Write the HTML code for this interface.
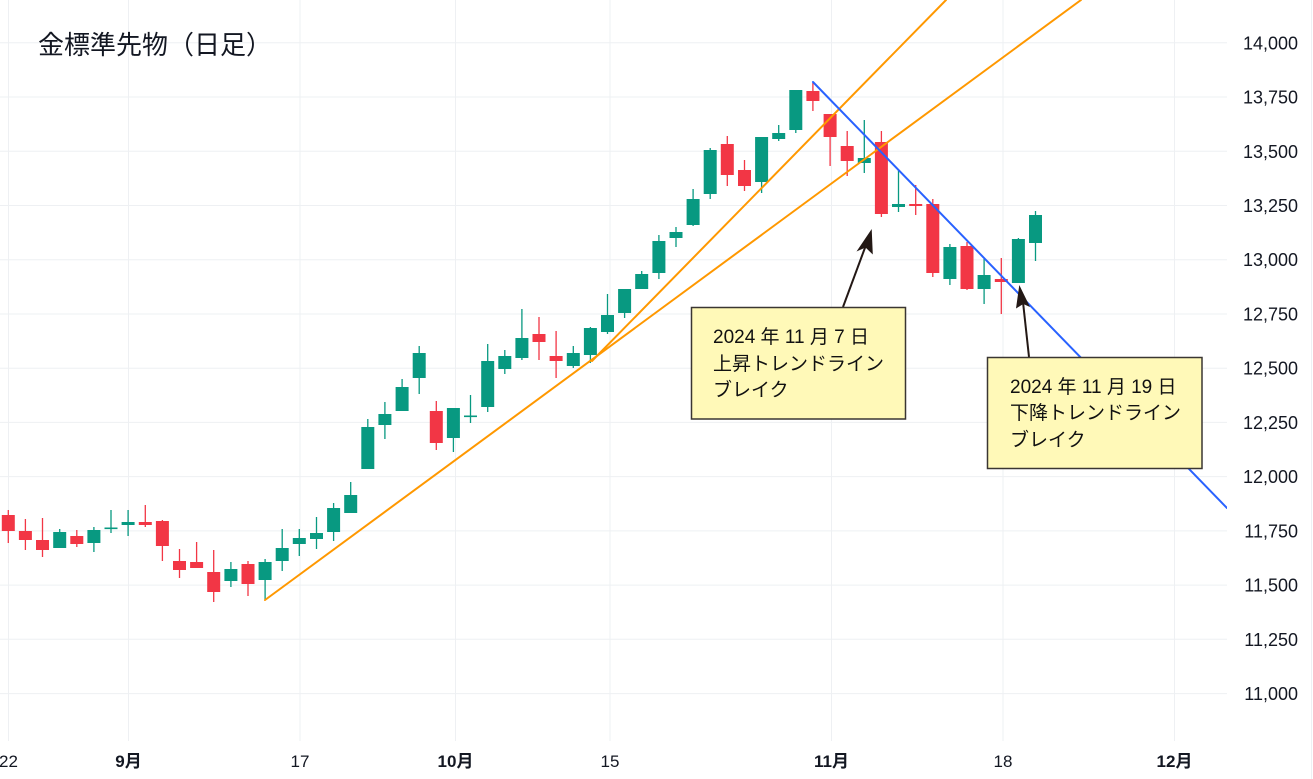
<!DOCTYPE html>
<html>
<head>
<meta charset="utf-8">
<style>
  html,body{margin:0;padding:0;background:#ffffff;}
  body{width:1313px;height:779px;overflow:hidden;}
  svg{display:block;}
  .ylab{font-family:"Liberation Sans","Noto Sans CJK JP",sans-serif;font-size:18px;fill:#131722;}
  .xlab{font-family:"Liberation Sans","Noto Sans CJK JP",sans-serif;font-size:17px;fill:#131722;}
  .xmon{font-weight:bold;}
  .title{font-family:"Liberation Sans","Noto Sans CJK JP",sans-serif;font-size:26px;fill:#131722;}
  .ann{font-family:"Liberation Sans","Noto Sans CJK JP",sans-serif;font-size:19px;fill:#111111;}
</style>
</head>
<body>
<svg width="1313" height="779" viewBox="0 0 1313 779" xmlns="http://www.w3.org/2000/svg">
  <defs>
    <clipPath id="plot"><rect x="0" y="0" width="1227" height="742"/></clipPath>
  </defs>
  <rect x="0" y="0" width="1313" height="779" fill="#ffffff"/>

  <!-- horizontal grid -->
  <g stroke="#eef0f3" stroke-width="1">
    <line x1="0" y1="42.8" x2="1227" y2="42.8"/>
    <line x1="0" y1="97.0" x2="1227" y2="97.0"/>
    <line x1="0" y1="151.3" x2="1227" y2="151.3"/>
    <line x1="0" y1="205.5" x2="1227" y2="205.5"/>
    <line x1="0" y1="259.7" x2="1227" y2="259.7"/>
    <line x1="0" y1="314.0" x2="1227" y2="314.0"/>
    <line x1="0" y1="368.2" x2="1227" y2="368.2"/>
    <line x1="0" y1="422.4" x2="1227" y2="422.4"/>
    <line x1="0" y1="476.6" x2="1227" y2="476.6"/>
    <line x1="0" y1="530.9" x2="1227" y2="530.9"/>
    <line x1="0" y1="585.1" x2="1227" y2="585.1"/>
    <line x1="0" y1="639.3" x2="1227" y2="639.3"/>
    <line x1="0" y1="693.6" x2="1227" y2="693.6"/>
  </g>
  <!-- vertical grid -->
  <g stroke="#eef0f3" stroke-width="1">
    <line x1="8.5" y1="0" x2="8.5" y2="741"/>
    <line x1="128.5" y1="0" x2="128.5" y2="741"/>
    <line x1="300" y1="0" x2="300" y2="741"/>
    <line x1="455.5" y1="0" x2="455.5" y2="741"/>
    <line x1="610" y1="0" x2="610" y2="741"/>
    <line x1="831.5" y1="0" x2="831.5" y2="741"/>
    <line x1="1003" y1="0" x2="1003" y2="741"/>
    <line x1="1174.5" y1="0" x2="1174.5" y2="741"/>
  </g>
  <line x1="1311.5" y1="0" x2="1311.5" y2="779" stroke="#eef0f3" stroke-width="1"/>

  <!-- title -->
  <text class="title" x="38" y="54">金標準先物（日足）</text>

  <!-- red candles -->
  <g fill="#f23645" stroke="#f23645">
    <g stroke-width="1.3">
      <line x1="8.3" y1="510" x2="8.3" y2="543"/>
      <line x1="25.4" y1="519" x2="25.4" y2="550"/>
      <line x1="42.5" y1="518" x2="42.5" y2="557"/>
      <line x1="76.8" y1="530" x2="76.8" y2="547"/>
      <line x1="145.3" y1="505" x2="145.3" y2="527"/>
      <line x1="162.4" y1="520" x2="162.4" y2="561"/>
      <line x1="179.5" y1="549" x2="179.5" y2="578"/>
      <line x1="196.6" y1="542" x2="196.6" y2="568"/>
      <line x1="213.7" y1="550" x2="213.7" y2="602"/>
      <line x1="248.0" y1="561" x2="248.0" y2="596"/>
      <line x1="436.3" y1="401" x2="436.3" y2="450"/>
      <line x1="539.0" y1="317" x2="539.0" y2="360"/>
      <line x1="556.1" y1="331" x2="556.1" y2="378"/>
      <line x1="727.3" y1="136" x2="727.3" y2="186"/>
      <line x1="744.5" y1="160" x2="744.5" y2="191"/>
      <line x1="812.9" y1="83" x2="812.9" y2="111"/>
      <line x1="830.1" y1="114" x2="830.1" y2="166"/>
      <line x1="847.2" y1="131" x2="847.2" y2="176"/>
      <line x1="881.4" y1="131" x2="881.4" y2="217"/>
      <line x1="915.7" y1="185" x2="915.7" y2="215"/>
      <line x1="932.8" y1="199" x2="932.8" y2="277"/>
      <line x1="967.0" y1="242" x2="967.0" y2="290"/>
      <line x1="1001.3" y1="258" x2="1001.3" y2="314"/>
    </g>
    <g stroke="none">
      <rect x="1.8" y="515" width="13" height="16"/>
      <rect x="18.9" y="531" width="13" height="9"/>
      <rect x="36" y="540" width="13" height="10"/>
      <rect x="70.3" y="536" width="13" height="8"/>
      <rect x="138.8" y="522" width="13" height="3"/>
      <rect x="155.9" y="521" width="13" height="25"/>
      <rect x="173" y="561" width="13" height="9"/>
      <rect x="190.1" y="562" width="13" height="6"/>
      <rect x="207.2" y="572" width="13" height="20"/>
      <rect x="241.5" y="564" width="13" height="20"/>
      <rect x="429.8" y="411" width="13" height="32"/>
      <rect x="532.5" y="334" width="13" height="8"/>
      <rect x="549.6" y="356" width="13" height="5"/>
      <rect x="720.8" y="144" width="13" height="31"/>
      <rect x="738" y="170" width="13" height="16"/>
      <rect x="806.4" y="91" width="13" height="10"/>
      <rect x="823.6" y="114" width="13" height="23"/>
      <rect x="840.7" y="146" width="13" height="15"/>
      <rect x="874.9" y="142" width="13" height="72"/>
      <rect x="909.2" y="204" width="13" height="2"/>
      <rect x="926.3" y="204" width="13" height="69"/>
      <rect x="960.5" y="246" width="13" height="43"/>
      <rect x="994.8" y="279" width="13" height="3"/>
    </g>
  </g>

  <!-- green candles -->
  <g fill="#089981" stroke="#089981">
    <g stroke-width="1.3">
      <line x1="59.7" y1="529" x2="59.7" y2="548"/>
      <line x1="93.9" y1="527" x2="93.9" y2="552"/>
      <line x1="111.0" y1="510" x2="111.0" y2="533"/>
      <line x1="128.1" y1="510" x2="128.1" y2="536"/>
      <line x1="230.9" y1="562" x2="230.9" y2="587"/>
      <line x1="265.1" y1="559" x2="265.1" y2="600"/>
      <line x1="282.2" y1="529" x2="282.2" y2="571"/>
      <line x1="299.3" y1="529" x2="299.3" y2="556"/>
      <line x1="316.5" y1="517" x2="316.5" y2="549"/>
      <line x1="333.6" y1="503" x2="333.6" y2="541"/>
      <line x1="350.7" y1="482" x2="350.7" y2="513"/>
      <line x1="367.8" y1="419" x2="367.8" y2="469"/>
      <line x1="384.9" y1="402" x2="384.9" y2="439"/>
      <line x1="402.1" y1="379" x2="402.1" y2="411"/>
      <line x1="419.2" y1="346" x2="419.2" y2="394"/>
      <line x1="453.4" y1="408" x2="453.4" y2="452"/>
      <line x1="470.5" y1="395" x2="470.5" y2="423"/>
      <line x1="487.7" y1="344" x2="487.7" y2="412"/>
      <line x1="504.8" y1="350" x2="504.8" y2="374"/>
      <line x1="521.9" y1="309" x2="521.9" y2="360"/>
      <line x1="573.3" y1="346" x2="573.3" y2="368"/>
      <line x1="590.4" y1="327" x2="590.4" y2="363"/>
      <line x1="607.5" y1="294" x2="607.5" y2="334"/>
      <line x1="624.6" y1="289" x2="624.6" y2="318"/>
      <line x1="641.7" y1="271" x2="641.7" y2="289"/>
      <line x1="658.9" y1="235" x2="658.9" y2="279"/>
      <line x1="676.0" y1="227" x2="676.0" y2="247"/>
      <line x1="693.1" y1="189" x2="693.1" y2="226"/>
      <line x1="710.2" y1="148" x2="710.2" y2="199"/>
      <line x1="761.6" y1="137" x2="761.6" y2="193"/>
      <line x1="778.7" y1="125" x2="778.7" y2="141"/>
      <line x1="795.8" y1="90" x2="795.8" y2="133"/>
      <line x1="864.3" y1="120" x2="864.3" y2="173"/>
      <line x1="898.5" y1="170" x2="898.5" y2="212"/>
      <line x1="949.9" y1="244" x2="949.9" y2="285"/>
      <line x1="984.1" y1="259" x2="984.1" y2="304"/>
      <line x1="1018.4" y1="238" x2="1018.4" y2="283"/>
      <line x1="1035.5" y1="211" x2="1035.5" y2="261"/>
    </g>
    <g stroke="none">
      <rect x="53.2" y="532" width="13" height="16"/>
      <rect x="87.4" y="530" width="13" height="13"/>
      <rect x="104.5" y="527.5" width="13" height="1.6"/>
      <rect x="121.6" y="522" width="13" height="3"/>
      <rect x="224.4" y="569" width="13" height="12"/>
      <rect x="258.6" y="562" width="13" height="18"/>
      <rect x="275.7" y="548" width="13" height="13"/>
      <rect x="292.8" y="538" width="13" height="6"/>
      <rect x="310" y="533" width="13" height="6"/>
      <rect x="327.1" y="508" width="13" height="24"/>
      <rect x="344.2" y="495" width="13" height="18"/>
      <rect x="361.3" y="427" width="13" height="42"/>
      <rect x="378.4" y="414" width="13" height="11"/>
      <rect x="395.6" y="387" width="13" height="24"/>
      <rect x="412.7" y="353" width="13" height="25"/>
      <rect x="446.9" y="408" width="13" height="30"/>
      <rect x="464" y="415.5" width="13" height="1.6"/>
      <rect x="481.2" y="361" width="13" height="46"/>
      <rect x="498.3" y="356" width="13" height="13"/>
      <rect x="515.4" y="338" width="13" height="20"/>
      <rect x="566.8" y="353" width="13" height="13"/>
      <rect x="583.9" y="328" width="13" height="27"/>
      <rect x="601" y="315" width="13" height="17"/>
      <rect x="618.1" y="289" width="13" height="24"/>
      <rect x="635.2" y="274" width="13" height="15"/>
      <rect x="652.4" y="241" width="13" height="32"/>
      <rect x="669.5" y="232" width="13" height="6"/>
      <rect x="686.6" y="199" width="13" height="26"/>
      <rect x="703.7" y="150" width="13" height="44"/>
      <rect x="755.1" y="137" width="13" height="45"/>
      <rect x="772.2" y="133" width="13" height="6"/>
      <rect x="789.3" y="90" width="13" height="40"/>
      <rect x="857.8" y="158" width="13" height="5"/>
      <rect x="892" y="204" width="13" height="3"/>
      <rect x="943.4" y="247" width="13" height="32"/>
      <rect x="977.6" y="275" width="13" height="14"/>
      <rect x="1011.9" y="239" width="13" height="44"/>
      <rect x="1029" y="215" width="13" height="28"/>
    </g>
  </g>

  <!-- trend lines -->
  <g clip-path="url(#plot)" fill="none" stroke-width="2" stroke-linecap="round">
    <line x1="265" y1="600" x2="1081" y2="0" stroke="#ff9800"/>
    <line x1="592" y1="361" x2="946" y2="0" stroke="#ff9800"/>
    <line x1="813" y1="82" x2="1227" y2="508" stroke="#2962ff"/>
  </g>

  <!-- arrows -->
  <g stroke="#231815" fill="#231815">
    <line x1="843" y1="307" x2="866" y2="245" stroke-width="2"/>
    <polygon points="871.7,229 856.5,251.5 865.5,247.5 872.8,254.5" stroke="none"/>
    <line x1="1029" y1="357" x2="1023" y2="302" stroke-width="2"/>
    <polygon points="1019.3,285 1016,308.5 1023.3,304 1030,307" stroke="none"/>
  </g>

  <!-- annotation boxes -->
  <rect x="691.5" y="307.5" width="214" height="111.5" fill="#fff9b8" stroke="#3a3632" stroke-width="1.5"/>
  <text class="ann" x="713" y="343">2024 年 11 月 7 日</text>
  <text class="ann" x="713" y="370">上昇トレンドライン</text>
  <text class="ann" x="713" y="396">ブレイク</text>

  <rect x="987.5" y="357.5" width="214.5" height="111" fill="#fff9b8" stroke="#3a3632" stroke-width="1.5"/>
  <text class="ann" x="1010" y="393">2024 年 11 月 19 日</text>
  <text class="ann" x="1010" y="419">下降トレンドライン</text>
  <text class="ann" x="1010" y="446">ブレイク</text>

  <!-- y-axis labels -->
  <g class="ylab" text-anchor="end">
    <text x="1298" y="49.3">14,000</text>
    <text x="1298" y="103.5">13,750</text>
    <text x="1298" y="157.8">13,500</text>
    <text x="1298" y="212.0">13,250</text>
    <text x="1298" y="266.2">13,000</text>
    <text x="1298" y="320.5">12,750</text>
    <text x="1298" y="374.7">12,500</text>
    <text x="1298" y="428.9">12,250</text>
    <text x="1298" y="483.1">12,000</text>
    <text x="1298" y="537.4">11,750</text>
    <text x="1298" y="591.6">11,500</text>
    <text x="1298" y="645.8">11,250</text>
    <text x="1298" y="700.1">11,000</text>
  </g>

  <!-- x-axis labels -->
  <g class="xlab" text-anchor="middle">
    <text x="8.5" y="767">22</text>
    <text x="128.5" y="767" class="xmon">9月</text>
    <text x="300" y="767">17</text>
    <text x="455.5" y="767" class="xmon">10月</text>
    <text x="610" y="767">15</text>
    <text x="831.5" y="767" class="xmon">11月</text>
    <text x="1003" y="767">18</text>
    <text x="1174.5" y="767" class="xmon">12月</text>
  </g>
</svg>
</body>
</html>
